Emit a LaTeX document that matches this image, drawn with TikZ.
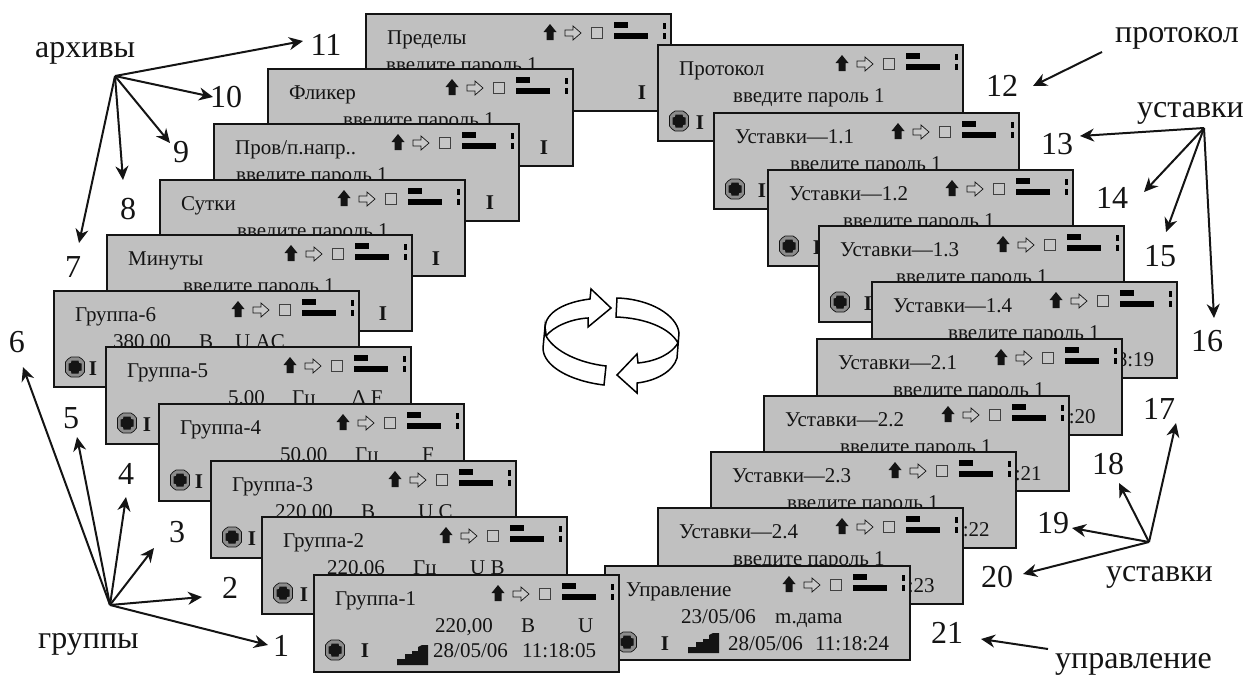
\documentclass[tikz,border=0pt]{standalone}
\usepackage{fontspec}
\setmainfont{Liberation Serif}
\usetikzlibrary{arrows.meta}
\definecolor{panelgray}{HTML}{C0C0C0}
\definecolor{inkdark}{HTML}{141414}
\newcounter{txt}
\tikzset{
  x=1pt,y=-1pt,
  panelbox/.style={draw=inkdark,fill=panelgray,line width=1.3pt,anchor=north west,inner sep=0pt,outer sep=0pt,minimum width=305pt},
  paneltext/.style={anchor=base west,inner sep=0pt,font=\fontsize{21}{21}\selectfont,text=inkdark},
  boldi/.style={anchor=base,inner sep=0pt,font=\fontsize{21}{21}\selectfont\bfseries,text=inkdark},
  biglabel/.style={anchor=base,inner sep=0pt,font=\fontsize{32}{32}\selectfont,text=inkdark},
  bigleft/.style={anchor=base west,inner sep=0pt,font=\fontsize{32}{32}\selectfont,text=inkdark},
  pointer/.style={draw=inkdark,line width=2pt,-{Stealth[length=14pt,width=13pt,inset=4.5pt]}},
  swirl/.style={draw=black,fill=white,line width=1.5pt,line join=miter}
}
% text inside a panel
\newcommand{\tx}[3]{\stepcounter{txt}\node[paneltext] (t\arabic{txt}) at (#1,#2) {#3};}
\newcommand{\boldI}[2]{\stepcounter{txt}\node[boldi] (t\arabic{txt}) at (#1,#2) {I};}
% round indicator
\newcommand{\bulb}[2]{%
  \begin{scope}[shift={(#1,#2)}]
    \filldraw[fill=gray!90,draw=inkdark,line width=.7pt] (-4,-10)--(4,-10)--(7,-8)--(9.5,-5)--(9.5,5)--(7,8)--(4,10)--(-4,10)--(-7,8)--(-9.5,5)--(-9.5,-5)--(-7,-8)--cycle;
    \fill[inkdark] (-3.5,-6.5)--(3.5,-6.5)--(4,-4)--(6.5,-3.5)--(6.5,3.5)--(4,4)--(3.5,6.5)--(-3.5,6.5)--(-4,4)--(-6.5,3.5)--(-6.5,-3.5)--(-4,-4)--cycle;
  \end{scope}}
% stairs icon
\newcommand{\stairs}[2]{%
  \begin{scope}[shift={(#1,#2)}]
    \fill[inkdark] (0,20)--(0,14)--(8,14)--(8,9)--(15,9)--(15,6)--(21,6)--(21,2)--(25,0)--(31,0)--(31,20)--cycle;
  \end{scope}}
% panel: id, x, y, height, title, further contents
\newcommand{\panel}[6]{%
  \begin{scope}[shift={(#2,#3)}]
    \node[panelbox,minimum height=#4pt] (p#1) at (0,0) {};
    \fill[inkdark] (184,10)--(190.5,18)--(187.5,18)--(187.5,26)--(180.5,26)--(180.5,18)--(177.5,18)--cycle;
    \filldraw[fill=panelgray!85,draw=inkdark,line width=.7pt] (199,16)--(207,16)--(207,12)--(215,19)--(207,26)--(207,22)--(199,22)--cycle;
    \filldraw[fill=panelgray!90,draw=black!75,line width=.8pt] (225.5,13)rectangle(236.5,24);
    \fill[black] (248,8)rectangle(262,14);
    \fill[black] (248,19)rectangle(282,25);
    \fill[black] (297,9)rectangle(300,15);
    \fill[black] (297,19)rectangle(300,25);
    \tx{21}{30}{#5}
    #6
  \end{scope}}
\newcommand{\pass}[1]{\tx{#1}{57}{введите пароль 1}}
\newcommand{\groupvals}[6]{\tx{#1}{57}{#2}\tx{#3}{57}{#4}\tx{#5}{57}{#6}}
\newcommand{\lowrow}[1]{\bulb{21}{76}\boldI{#1}{84}}
\newcommand{\stamp}[2]{\tx{122}{84}{28/05/06}\tx{#2}{84}{11:18:#1}}
\begin{document}
\begin{tikzpicture}
\useasboundingbox (0,0) rectangle (1257,675);
% archive panels
\panel{lim}{366}{14}{97}{Пределы}{\pass{20}\boldI{276}{85}}
\panel{fli}{268}{69}{97}{Фликер}{\pass{75}\boldI{276}{85}}
\panel{pro}{214}{124}{97}{Пров/п.напр..}{\pass{22}\boldI{276}{85}}
\panel{sut}{160}{180}{96}{Сутки}{\pass{77}\boldI{276}{85}}
\panel{min}{107}{235}{96}{Минуты}{\pass{76}\boldI{276}{85}}
% groups 6 to 2
\panel{g6}{54}{291}{96}{Группа-6}{\groupvals{59}{380.00}{145}{В}{181}{U AC}\lowrow{39}}
\panel{g5}{106}{347}{97}{Группа-5}{\groupvals{122}{5.00}{186}{Гц}{246}{Δ F}\lowrow{41}}
\panel{g4}{159}{404}{97}{Группа-4}{\groupvals{121}{50.00}{196}{Гц}{263}{F}\lowrow{40}}
\panel{g3}{211}{461}{97}{Группа-3}{\groupvals{64}{220.00}{150}{В}{207}{U C}\lowrow{41}}
\panel{g2}{262}{517}{97}{Группа-2}{\groupvals{65}{220.06}{151}{Гц}{208}{U B}\lowrow{42}}
% protocol and settings
\panel{prt}{658}{45}{96}{Протокол}{\pass{75}\lowrow{42}}
\panel{u11}{714}{113}{96}{Уставки—1.1}{\pass{76}\lowrow{48}}
\panel{u12}{768}{170}{96}{Уставки—1.2}{\pass{75}\lowrow{49}}
\panel{u13}{819}{226}{96}{Уставки—1.3}{\pass{77}\lowrow{49}}
\panel{u14}{872}{282}{96}{Уставки—1.4}{\pass{76}\stamp{19}{208}}
\panel{u21}{817}{339}{96}{Уставки—2.1}{\pass{76}\stamp{20}{204.5}}
\panel{u22}{764}{396}{95}{Уставки—2.2}{\pass{76}\stamp{21}{203.5}}
\panel{u23}{711}{452}{96}{Уставки—2.3}{\pass{76}\stamp{22}{204.5}}
\panel{u24}{658}{508}{96}{Уставки—2.4}{\pass{75}\stamp{23}{202.5}}
\panel{upr}{605}{566}{94}{Управление}{\tx{76}{57}{23/05/06}\tx{170}{57}{m.дama}\bulb{22}{76}\boldI{60}{84}\stairs{83}{67}\tx{123}{84}{28/05/06}\tx{210}{84}{11:18:24}}
% group 1 on top
\panel{g1}{314}{575}{97}{Группа-1}{\groupvals{121}{220,00}{207}{В}{264}{U}\bulb{21}{75}\boldI{51}{82}\stairs{83}{70}\tx{119}{82}{28/05/06}\tx{208}{82}{11:18:05}}
% rotation sign
\path[swirl] (545,327) .. controls (546,312) and (565,302) .. (590,299) -- (591,289) -- (611,308) -- (588,327) -- (588,318) .. controls (570,319) and (553,327) .. (546,336) -- cycle;
\path[swirl] (546,336) .. controls (555,352) and (580,363) .. (606,366) -- (604,385) .. controls (570,381) and (543,366) .. (543,348) -- (545,327) -- cycle;
\path[swirl] (617,298) .. controls (650,299) and (677,315) .. (679,333) -- (677,358) .. controls (673,372) and (655,381) .. (637,383) -- (637,393) -- (617,375) -- (637,354) -- (638,363) .. controls (658,361) and (672,353) .. (678,343) .. controls (670,328) and (645,318) .. (616,317) -- cycle;
% group labels
\node[bigleft] (lgr) at (38,648) {группы};
\node[biglabel] (n1) at (281,656) {1};
\node[biglabel] (n2) at (230,598) {2};
\node[biglabel] (n3) at (177,542) {3};
\node[biglabel] (n4) at (126,484) {4};
\node[biglabel] (n5) at (71,428) {5};
\node[biglabel] (n6) at (17,352) {6};
\coordinate (gh) at (110,605);
\coordinate (e1) at (268,645);
\coordinate (e2) at (202,597);
\coordinate (e3) at (154,548);
\coordinate (e4) at (126,497);
\coordinate (e5) at (77,437);
\coordinate (e6) at (23,367);
\foreach \k in {1,...,6}{\draw[pointer] (gh) -- (e\k);}
% archive labels
\node[bigleft] (lar) at (35,57) {архивы};
\node[biglabel] (n7) at (73,277) {7};
\node[biglabel] (n8) at (128,219) {8};
\node[biglabel] (n9) at (181,162) {9};
\node[biglabel] (n10) at (226,107) {10};
\node[biglabel] (n11) at (326,55) {11};
\coordinate (ah) at (115,76);
\coordinate (e7) at (79,243);
\coordinate (e8) at (123,180);
\coordinate (e9) at (170,143);
\coordinate (e10) at (213,97);
\coordinate (e11) at (303,41);
\foreach \k in {7,...,11}{\draw[pointer] (ah) -- (e\k);}
% protocol
\node[bigleft] (lpr) at (1115,42) {протокол};
\node[biglabel] (n12) at (1002,96) {12};
\coordinate (s12) at (1102,52);
\coordinate (e12) at (1033,86);
\draw[pointer] (s12) -- (e12);
% upper settings
\node[bigleft] (lu1) at (1137,117) {уставки};
\node[biglabel] (n13) at (1057,154) {13};
\node[biglabel] (n14) at (1112,208) {14};
\node[biglabel] (n15) at (1160,266) {15};
\node[biglabel] (n16) at (1207,351) {16};
\coordinate (uh) at (1204,128);
\coordinate (e13) at (1080,136);
\coordinate (e14) at (1144,192);
\coordinate (e15) at (1166,232);
\coordinate (e16) at (1214,318);
\foreach \k in {13,...,16}{\draw[pointer] (uh) -- (e\k);}
% lower settings
\node[bigleft] (lu2) at (1106,581) {уставки};
\node[biglabel] (n17) at (1159,419) {17};
\node[biglabel] (n18) at (1108,474) {18};
\node[biglabel] (n19) at (1053,533) {19};
\node[biglabel] (n20) at (997,587) {20};
\coordinate (vh) at (1149,542);
\coordinate (e17) at (1176,423);
\coordinate (e18) at (1119,483);
\coordinate (e19) at (1072,528);
\coordinate (e20) at (1023,574);
\foreach \k in {17,...,20}{\draw[pointer] (vh) -- (e\k);}
% control
\node[bigleft] (lup) at (1055,668) {управление};
\node[biglabel] (n21) at (947,643) {21};
\coordinate (s21) at (1048,649);
\coordinate (e21) at (981,639);
\draw[pointer] (s21) -- (e21);
\end{tikzpicture}
\end{document}
